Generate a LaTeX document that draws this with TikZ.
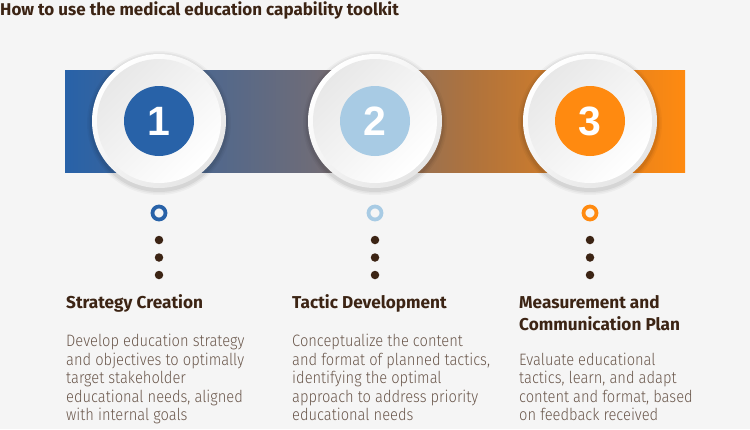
\documentclass[tikz,border=0pt]{standalone}
\usepackage{fontspec}
\setmainfont{Fira Sans}
\newfontfamily\bodyfont[FakeStretch=0.89]{Fira Sans Light}
\newfontfamily\numfont{Liberation Sans}
\definecolor{bggray}{HTML}{F5F5F5}
\definecolor{cblue}{HTML}{2862A8}
\definecolor{clight}{HTML}{A8CBE4}
\definecolor{corange}{HTML}{FF8A10}
\definecolor{cgrey}{HTML}{6E6C78}
\definecolor{cbronze}{HTML}{B0733C}
\definecolor{cbrown}{HTML}{3C2414}
\definecolor{ctext}{HTML}{6A574B}
\pgfdeclarehorizontalshading{bandshade}{100bp}{color(0bp)=(cblue); color(25bp)=(cblue); color(45bp)=(cgrey); color(58bp)=(cbronze); color(75bp)=(corange); color(100bp)=(corange)}
\begin{document}
\begin{tikzpicture}[x=1pt,y=-1pt,line join=round,line cap=round,
  numdisk/.style={circle,fill=#1,minimum size=70pt,inner sep=0pt,text=white,font=\numfont\bfseries\fontsize{41}{41}\selectfont},
  ring/.style={circle,draw=#1,line width=3.8pt,minimum size=13pt,inner sep=0pt},
  dot/.style={circle,fill=cbrown,minimum size=8.5pt,inner sep=0pt},
  head/.style={anchor=base west,align=left,inner sep=0pt,text=cbrown,font=\bfseries\fontsize{17.2}{22}\selectfont},
  body/.style={anchor=base west,align=left,inner sep=0pt,text=ctext,font=\bodyfont\fontsize{16.5}{18.5}\selectfont}]
  \fill[bggray] (0,0) rectangle (750,429);
  \useasboundingbox (0,0) rectangle (750,429);
  % title
  \node[anchor=base west,inner sep=0pt,text=cbrown,font=\bfseries\fontsize{17}{20}\selectfont] (title) at (0,15) {How to use the medical education capability toolkit};
  % band
  \shade[shading=bandshade] (65,70) rectangle (685,172);
  % circles
  \foreach \x/\c/\n in {159/cblue/1,375/clight/2,590/corange/3}{
    \foreach \r/\o in {72/0.03,70.5/0.04,69/0.06}{\fill[black,opacity=\o] (\x,123) circle (\r pt);}
    \shade[top color=white,bottom color=black!10,shading angle=45] (\x,121) circle (67pt);
    \shade[top color=black!9,bottom color=white,shading angle=45] (\x,121) circle (62pt);
    \node[numdisk=\c] (step\n) at (\x,121) {\n};
    \node[ring=\c] (ring\n) at (\x,213) {};
    \foreach \y/\k in {240/a,257.5/b,275/c}{\node[dot] (dot\n\k) at (\x,\y) {};}
  }
  % texts (base = last line)
  \node[head] (head1) at (66,308) {Strategy Creation};
  \node[head] (head2) at (292,308) {Tactic Development};
  \node[head] (head3) at (519,330) {Measurement and\\Communication Plan};
  \node[body] (body1) at (66,420.5) {Develop education strategy\\and objectives to optimally\\target stakeholder\\educational needs, aligned\\with internal goals};
  \node[body] (body2) at (292,420.5) {Conceptualize the content\\and format of planned tactics,\\identifying the optimal\\approach to address priority\\educational needs};
  \node[body] (body3) at (519,420.5) {Evaluate educational\\tactics, learn, and adapt\\content and format, based\\on feedback received};
\end{tikzpicture}
\end{document}
